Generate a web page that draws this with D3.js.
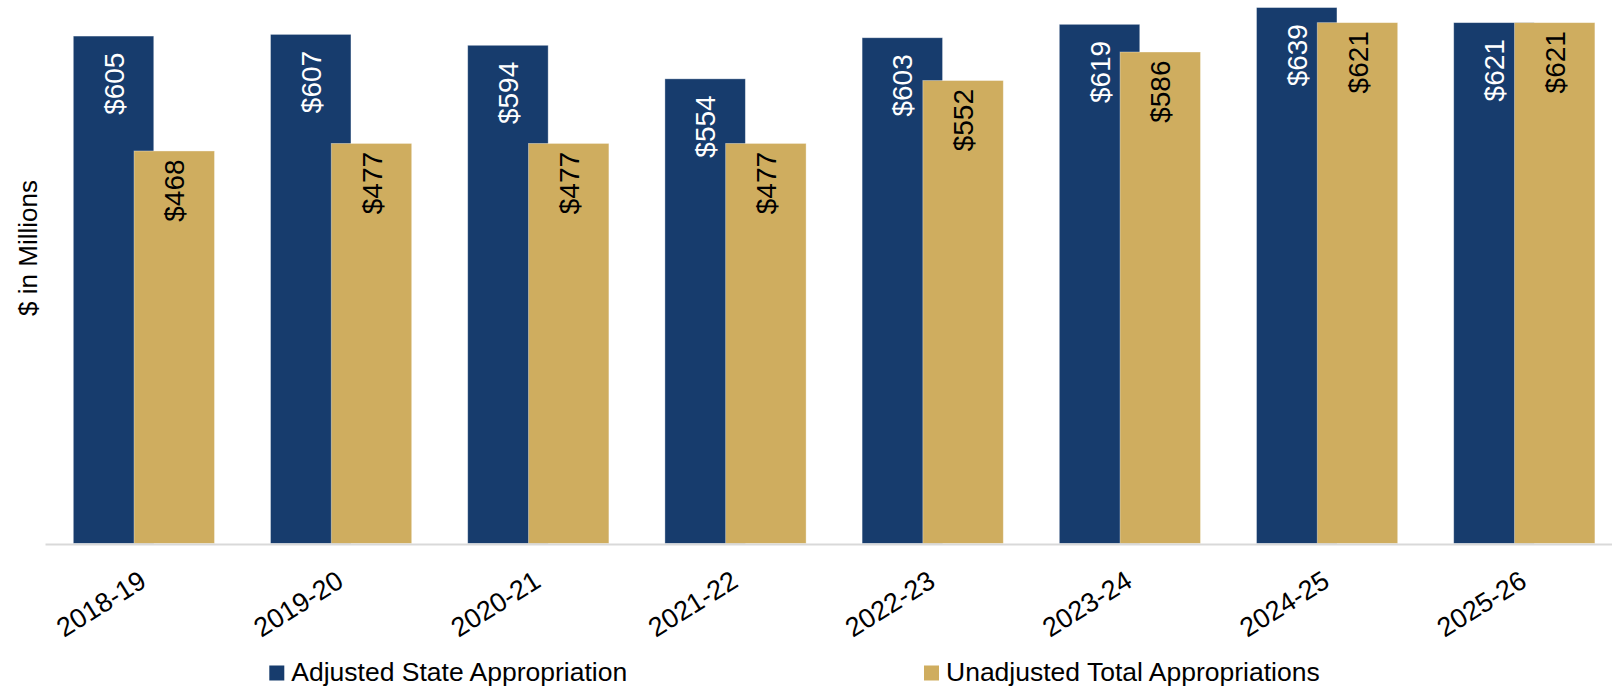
<!DOCTYPE html>
<html>
<head>
<meta charset="utf-8">
<script src="https://cdn.jsdelivr.net/npm/d3@7/dist/d3.min.js"></script>
<style>
  html, body { margin: 0; padding: 0; background: #ffffff; }
  svg { display: block; font-family: Arial, "Liberation Sans", sans-serif; }
</style>
</head>
<body>
<svg id="chart" width="1612" height="686"></svg>
<script>
// Fiscal years on the category axis
const years = ["2018-19", "2019-20", "2020-21", "2021-22", "2022-23", "2023-24", "2024-25", "2025-26"];
// Appropriations, $ in millions
const adjustedState = [605, 607, 594, 554, 603, 619, 639, 621];
const unadjustedTotal = [468, 477, 477, 477, 552, 586, 621, 621];
const seriesNames = ["Adjusted State Appropriation", "Unadjusted Total Appropriations"];

const colors = ["#173c6d", "#cfad5f"];
const labelColors = ["#ffffff", "#000000"];

const W = 1612, H = 686;
const baseY = 543.5;
const svg = d3.select("#chart");

const x = d3.scaleBand().domain(years).range([45.5, 1623.1]).paddingInner(0).paddingOuter(0);
const y = d3.scaleLinear().domain([0, 648]).range([baseY, 0]);

const band = x.bandwidth();
const barW = band * 0.408;
const gapOuter = band * 0.141;
const step = band * 0.308; // second bar overlaps the first

const series = [adjustedState, unadjustedTotal];

// Bars
series.forEach((vals, s) => {
  svg.append("g")
    .selectAll("rect")
    .data(vals)
    .join("rect")
    .attr("x", (d, i) => x(years[i]) + gapOuter + s * step)
    .attr("y", d => y(d))
    .attr("width", barW)
    .attr("height", d => y(0) - y(d))
    .attr("fill", colors[s])
    .attr("stroke", "#ffffff")
    .attr("stroke-opacity", 0.45)
    .attr("stroke-width", 0.8);
});

// Value labels, rotated and placed inside the top of each bar
const labelPad = [16.5, 8.5];
series.forEach((vals, s) => {
  svg.append("g")
    .selectAll("text")
    .data(vals)
    .join("text")
    .attr("transform", (d, i) => {
      const cx = x(years[i]) + gapOuter + s * step + barW / 2;
      return `translate(${cx},${y(d) + labelPad[s]}) rotate(-90)`;
    })
    .attr("text-anchor", "end")
    .attr("dy", "0.36em")
    .attr("font-size", 28)
    .attr("fill", labelColors[s])
    .text(d => "$" + d);
});

// Category axis
const xAxis = svg.append("g").attr("transform", `translate(0,${baseY + 1})`)
  .call(d3.axisBottom(x).tickSize(0).tickPadding(0));
xAxis.select(".domain").attr("stroke", "#d9d9d9").attr("stroke-width", 2)
  .attr("d", `M45.5,0H${W}`);
xAxis.selectAll(".tick text")
  .attr("font-size", 27)
  .attr("fill", "#000")
  .attr("text-anchor", "end")
  .attr("dy", null)
  .attr("y", null)
  .attr("transform", "translate(4,41) rotate(-32)");

// Vertical axis title
svg.append("text")
  .attr("transform", "translate(37,248) rotate(-90)")
  .attr("text-anchor", "middle")
  .attr("font-size", 26)
  .attr("fill", "#000")
  .text("$ in Millions");

// Legend
const legendX = [269.3, 924];
const legend = svg.append("g");
seriesNames.forEach((name, s) => {
  legend.append("rect")
    .attr("x", legendX[s]).attr("y", 665.5)
    .attr("width", 15).attr("height", 15)
    .attr("fill", colors[s]);
  legend.append("text")
    .attr("x", legendX[s] + 22).attr("y", 680.5)
    .attr("font-size", 26.5)
    .attr("fill", "#000")
    .text(name);
});
</script>
</body>
</html>
